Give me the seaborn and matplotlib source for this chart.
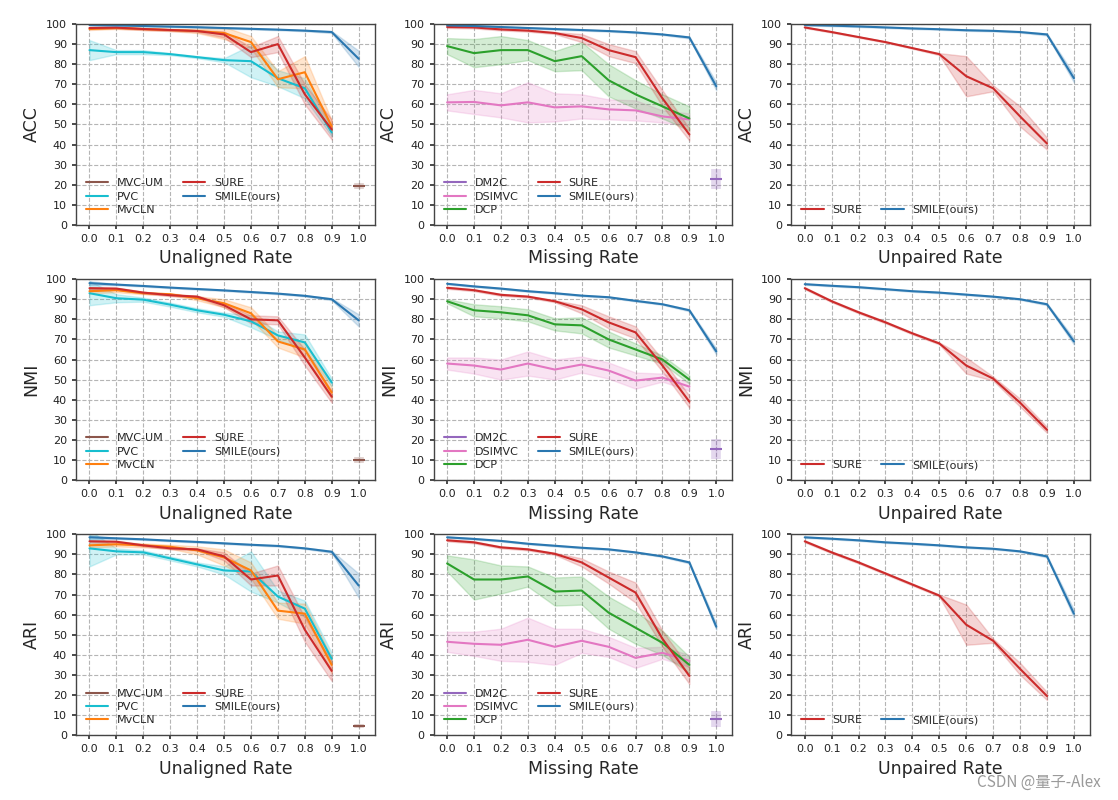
import numpy as np
import pandas as pd
import matplotlib
matplotlib.use("Agg")
import matplotlib.pyplot as plt
import seaborn as sns

rates = [0.0, 0.1, 0.2, 0.3, 0.4, 0.5, 0.6, 0.7, 0.8, 0.9, 1.0]
xtick_labels = ["0.0", "0.1", "0.2", "0.3", "0.4", "0.5", "0.6", "0.7", "0.8", "0.9", "1.0"]
metrics = ["ACC", "NMI", "ARI"]
settings = ["Unaligned Rate", "Missing Rate", "Unpaired Rate"]

# ---------------- ACC ----------------
acc_u_pvc = [87, 86, 86, 85, 83.5, 82, 81.5, 73, 68, 46]
acc_u_pvc_e = [5, 1, 1, 0.5, 0.5, 1, 8, 4, 5, 2]
acc_u_mvcln = [97.5, 98, 97.5, 97, 96.5, 95.5, 91, 72.5, 76, 49]
acc_u_mvcln_e = [0.5, 0.5, 0.5, 0.5, 1, 3, 3, 4, 8, 3]
acc_u_sure = [98, 98.2, 97.5, 97, 96.5, 94.8, 86, 90, 65, 47.5]
acc_u_sure_e = [0.5, 0.5, 0.5, 0.5, 0.5, 1.5, 2.5, 4, 5, 5]
acc_u_smile = [99.5, 99.3, 99.0, 98.7, 98.4, 98.0, 97.6, 97.2, 96.7, 96.0, 82.7]
acc_u_smile_e = [0.3, 0.3, 0.3, 0.3, 0.3, 0.3, 0.3, 0.3, 0.3, 0.5, 4]
acc_u_mvcum = [19.5]
acc_u_mvcum_e = [1.5]

acc_m_dcp = [89, 85.5, 87, 87, 81.5, 84, 72, 65, 59, 53]
acc_m_dcp_e = [4, 7, 7, 5, 5, 7, 8, 7, 6, 6]
acc_m_dsimvc = [61, 61.2, 59.5, 61, 58.5, 59, 57.5, 57, 54, 52.5]
acc_m_dsimvc_e = [4, 6, 6, 10, 7, 6, 5, 5, 3, 3]
acc_m_sure = [98.5, 98.3, 97.3, 96.7, 95.5, 93, 87, 83.5, 63, 45]
acc_m_sure_e = [0.5, 0.5, 0.5, 0.5, 0.5, 2, 3, 3, 4, 3]
acc_m_smile = [99.3, 99, 98.5, 98, 97.5, 97, 96.5, 95.8, 94.8, 93.3, 69]
acc_m_smile_e = [0.3, 0.3, 0.3, 0.3, 0.3, 0.3, 0.3, 0.3, 0.3, 0.5, 2]
acc_m_dm2c = [23]
acc_m_dm2c_e = [5]

acc_p_sure = [98.3, 96, 93.5, 91, 88, 85, 74, 68, 54, 40.5]
acc_p_sure_e = [0.3, 0.3, 0.3, 0.3, 0.3, 0.5, 10, 1.5, 5, 3]
acc_p_smile = [99.5, 99.2, 98.8, 98.3, 97.8, 97.4, 96.9, 96.6, 96, 94.8, 73]
acc_p_smile_e = [0.3, 0.3, 0.3, 0.3, 0.3, 0.3, 0.3, 0.3, 0.3, 0.5, 2]

# ---------------- NMI ----------------
nmi_u_pvc = [93, 90.5, 89.8, 87.3, 84.5, 82.3, 79, 72, 68.5, 48.5]
nmi_u_pvc_e = [6, 2, 1, 1, 1, 1, 3, 2, 4, 2]
nmi_u_mvcln = [94, 94.5, 93, 92.5, 90.5, 88, 83, 69, 65, 43.5]
nmi_u_mvcln_e = [1, 1, 0.5, 0.5, 1, 2, 3, 3, 4, 3]
nmi_u_sure = [95.5, 95.3, 93.3, 92, 91.3, 87, 80, 79.5, 61, 41.5]
nmi_u_sure_e = [0.5, 0.5, 0.5, 0.5, 0.5, 1, 2, 2, 4, 3]
nmi_u_smile = [98, 97.3, 96.6, 95.8, 95.1, 94.4, 93.6, 92.8, 91.7, 90, 79.5]
nmi_u_smile_e = [1, 0.3, 0.3, 0.3, 0.3, 0.3, 0.3, 0.3, 0.3, 0.5, 3]
nmi_u_mvcum = [10]
nmi_u_mvcum_e = [1.5]

nmi_m_dcp = [89, 84.5, 83.5, 82, 77.5, 77, 70, 65, 60, 50]
nmi_m_dcp_e = [1, 3, 3, 3, 3, 4, 4, 3, 2, 2]
nmi_m_dsimvc = [58, 57, 55, 58, 55, 57.5, 54.5, 49.5, 51, 46.5]
nmi_m_dsimvc_e = [3, 4, 5, 6, 5, 4, 4, 4, 2, 2]
nmi_m_sure = [95.7, 94.5, 92.2, 91.3, 89, 85, 78.5, 73.5, 57, 39]
nmi_m_sure_e = [0.5, 0.5, 0.5, 0.5, 0.5, 2, 3, 3, 3, 3]
nmi_m_smile = [97.7, 96.4, 95.3, 94, 93, 91.8, 91, 89.2, 87.5, 84.5, 64]
nmi_m_smile_e = [0.3, 0.3, 0.3, 0.3, 0.3, 0.3, 0.3, 0.3, 0.3, 0.5, 1.5]
nmi_m_dm2c = [15.5]
nmi_m_dm2c_e = [5]

nmi_p_sure = [95.5, 89, 83.5, 78.5, 73, 68, 57, 50.5, 38.5, 25]
nmi_p_sure_e = [0.5, 0.5, 0.5, 0.5, 0.5, 0.5, 4, 1, 2, 1.5]
nmi_p_smile = [97.5, 96.7, 96, 95, 94, 93.3, 92.3, 91.3, 90, 87.5, 69]
nmi_p_smile_e = [0.3, 0.3, 0.3, 0.3, 0.3, 0.3, 0.3, 0.3, 0.3, 0.5, 1.5]

# ---------------- ARI ----------------
ari_u_pvc = [93, 91.5, 91, 88, 85, 82, 81.5, 69, 63, 38]
ari_u_pvc_e = [9, 1.5, 1, 1, 1, 2, 10, 3, 4, 3]
ari_u_mvcln = [94.5, 95, 94.5, 93.8, 92, 88.5, 82, 62, 60.5, 35]
ari_u_mvcln_e = [1, 1, 1, 1, 2, 4, 4, 4, 5, 4]
ari_u_sure = [96.5, 96.3, 94.5, 93, 92.5, 89, 77.5, 79.5, 52.5, 32]
ari_u_sure_e = [0.5, 0.5, 0.5, 0.5, 0.5, 2, 3, 5, 6, 5]
ari_u_smile = [98.5, 98, 97.5, 96.8, 96.2, 95.5, 94.8, 94.2, 93, 91.3, 74.5]
ari_u_smile_e = [1, 0.3, 0.3, 0.3, 0.3, 0.3, 0.3, 0.3, 0.3, 0.5, 6]
ari_u_mvcum = [4.5]
ari_u_mvcum_e = [1]

ari_m_dcp = [85.5, 77.5, 77.5, 79, 71.5, 72, 61, 53.5, 46, 35]
ari_m_dcp_e = [4, 10, 7, 5, 7, 7, 8, 8, 6, 4]
ari_m_dsimvc = [46.5, 45.5, 45, 47.5, 44, 47, 44, 38.5, 41, 37]
ari_m_dsimvc_e = [5, 6, 8, 11, 9, 6, 5, 5, 3, 3]
ari_m_sure = [97, 96, 93.5, 92.5, 90.3, 86, 78.5, 71, 48, 29.5]
ari_m_sure_e = [0.5, 0.5, 0.5, 0.5, 0.5, 2, 3, 5, 4, 4]
ari_m_smile = [98.5, 97.7, 96.7, 95.3, 94.3, 93.3, 92.5, 91, 89, 86, 54]
ari_m_smile_e = [0.3, 0.3, 0.3, 0.3, 0.3, 0.3, 0.3, 0.3, 0.3, 0.5, 1.5]
ari_m_dm2c = [8]
ari_m_dm2c_e = [4]

ari_p_sure = [96.5, 91, 86, 80.5, 75, 69.5, 55, 47, 33, 19.5]
ari_p_sure_e = [0.5, 0.5, 0.5, 0.5, 0.5, 0.5, 10, 1, 3, 2]
ari_p_smile = [98.5, 97.8, 97, 96, 95.3, 94.5, 93.5, 92.8, 91.5, 89, 60.5]
ari_p_smile_e = [0.3, 0.3, 0.3, 0.3, 0.3, 0.3, 0.3, 0.3, 0.3, 0.5, 2]

palette = {
    "MVC-UM": "#8c564b", "PVC": "#17becf", "MvCLN": "#ff7f0e",
    "SURE": "#cc2b2b", "SMILE(ours)": "#2a77b0",
    "DM2C": "#9467bd", "DSIMVC": "#e377c2", "DCP": "#2ca02c",
}

panels = {
    ("ACC", 0): [("MVC-UM", acc_u_mvcum, acc_u_mvcum_e), ("PVC", acc_u_pvc, acc_u_pvc_e),
                 ("MvCLN", acc_u_mvcln, acc_u_mvcln_e), ("SURE", acc_u_sure, acc_u_sure_e),
                 ("SMILE(ours)", acc_u_smile, acc_u_smile_e)],
    ("ACC", 1): [("DM2C", acc_m_dm2c, acc_m_dm2c_e), ("DSIMVC", acc_m_dsimvc, acc_m_dsimvc_e),
                 ("DCP", acc_m_dcp, acc_m_dcp_e), ("SURE", acc_m_sure, acc_m_sure_e),
                 ("SMILE(ours)", acc_m_smile, acc_m_smile_e)],
    ("ACC", 2): [("SURE", acc_p_sure, acc_p_sure_e), ("SMILE(ours)", acc_p_smile, acc_p_smile_e)],
    ("NMI", 0): [("MVC-UM", nmi_u_mvcum, nmi_u_mvcum_e), ("PVC", nmi_u_pvc, nmi_u_pvc_e),
                 ("MvCLN", nmi_u_mvcln, nmi_u_mvcln_e), ("SURE", nmi_u_sure, nmi_u_sure_e),
                 ("SMILE(ours)", nmi_u_smile, nmi_u_smile_e)],
    ("NMI", 1): [("DM2C", nmi_m_dm2c, nmi_m_dm2c_e), ("DSIMVC", nmi_m_dsimvc, nmi_m_dsimvc_e),
                 ("DCP", nmi_m_dcp, nmi_m_dcp_e), ("SURE", nmi_m_sure, nmi_m_sure_e),
                 ("SMILE(ours)", nmi_m_smile, nmi_m_smile_e)],
    ("NMI", 2): [("SURE", nmi_p_sure, nmi_p_sure_e), ("SMILE(ours)", nmi_p_smile, nmi_p_smile_e)],
    ("ARI", 0): [("MVC-UM", ari_u_mvcum, ari_u_mvcum_e), ("PVC", ari_u_pvc, ari_u_pvc_e),
                 ("MvCLN", ari_u_mvcln, ari_u_mvcln_e), ("SURE", ari_u_sure, ari_u_sure_e),
                 ("SMILE(ours)", ari_u_smile, ari_u_smile_e)],
    ("ARI", 1): [("DM2C", ari_m_dm2c, ari_m_dm2c_e), ("DSIMVC", ari_m_dsimvc, ari_m_dsimvc_e),
                 ("DCP", ari_m_dcp, ari_m_dcp_e), ("SURE", ari_m_sure, ari_m_sure_e),
                 ("SMILE(ours)", ari_m_smile, ari_m_smile_e)],
    ("ARI", 2): [("SURE", ari_p_sure, ari_p_sure_e), ("SMILE(ours)", ari_p_smile, ari_p_smile_e)],
}

sns.set_theme(style="ticks")
plt.rcParams["font.family"] = ["DejaVu Sans"]

fig, axes = plt.subplots(3, 3, figsize=(11.18, 8.0), dpi=100)
fig.subplots_adjust(left=0.068, right=0.975, top=0.97, bottom=0.081, wspace=0.197, hspace=0.27)

for r, metric in enumerate(metrics):
    for c, setting in enumerate(settings):
        ax = axes[r, c]
        series = panels[(metric, c)]
        rows = []
        for name, vals, errs in series:
            if len(vals) == 1:
                xs = rates[-1:]
            else:
                xs = rates[:len(vals)]
            for x, v, e in zip(xs, vals, errs):
                rows.append((name, x, v - e))
                rows.append((name, x, v + e))
        df = pd.DataFrame(rows, columns=["method", "rate", "value"])
        order = [s[0] for s in series]
        ax.grid(True, linestyle="--", color="#b5b5b5", linewidth=0.8, zorder=0)
        ax.set_axisbelow(True)
        sns.lineplot(data=df, x="rate", y="value", hue="method", hue_order=order,
                     palette=palette, errorbar=("pi", 100), linewidth=1.5, ax=ax)
        # single-point methods (only at rate 1.0)
        for name, vals, errs in series:
            if len(vals) == 1:
                col = palette[name]
                ax.errorbar(rates[-1:], vals, yerr=errs, fmt="none", ecolor=col,
                            elinewidth=7, alpha=0.25, capsize=0)
                ax.plot(rates[-1:], vals, marker="_", markersize=9, markeredgewidth=1.5,
                        color=col, linestyle="none")
        ax.set_ylim(0, 100)
        ax.set_xlim(-0.05, 1.06)
        ax.set_yticks(range(0, 101, 10))
        ax.set_xticks(rates)
        ax.set_xticklabels(xtick_labels)
        ax.tick_params(labelsize=8, length=3, color="#333333", labelcolor="#222222")
        for sp in ax.spines.values():
            sp.set_color("#444444")
            sp.set_linewidth(1.0)
        ax.set_xlabel(setting, fontsize=12.5)
        ax.set_ylabel(metric, fontsize=12.5)
        handles, labels = ax.get_legend_handles_labels()
        ax.legend(handles, labels, ncol=2, loc="lower left", frameon=False, fontsize=8,
                  handlelength=2.0, columnspacing=1.7, labelspacing=0.3,
                  bbox_to_anchor=(0.0, 0.0))

fig.text(0.985, 0.012, "CSDN @量子-Alex", ha="right", va="bottom", fontsize=11,
         color="#9a9a9a", family=["Noto Sans CJK SC", "DejaVu Sans"])

fig.savefig("out.png", dpi=100)
